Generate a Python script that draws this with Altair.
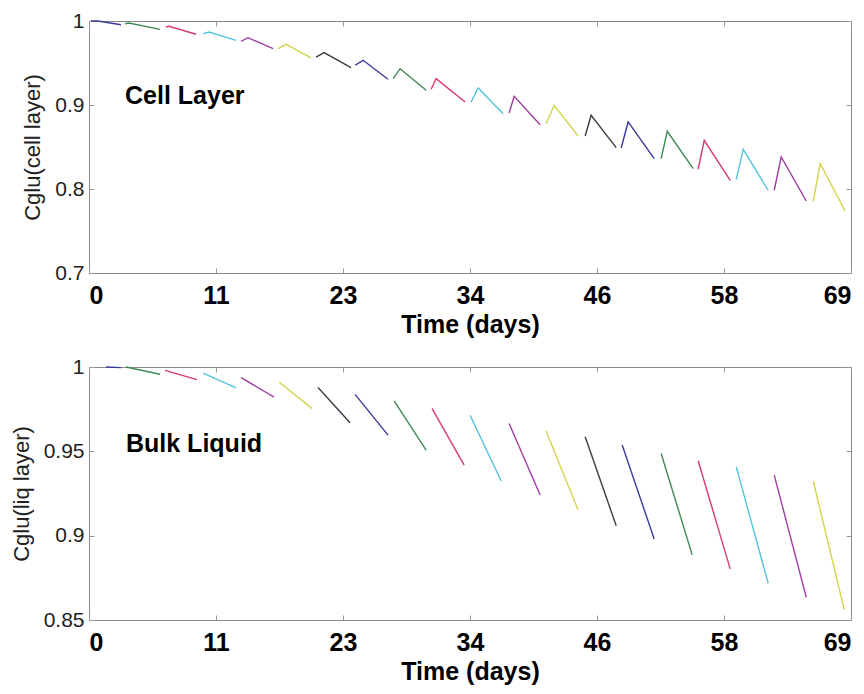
import json
import altair as alt
import pandas as pd

FONT = "Liberation Sans"

# ---------------- data ----------------
x_ticks = [0, 11.5, 23, 34.5, 46, 57.5, 69]
x_tick_labels = ["0", "11", "23", "34", "46", "58", "69"]

color_codes = ["b", "g", "r", "c", "m", "y", "k"]
color_values = ["#3a3a9c", "#3f8a52", "#d83a6c", "#52c4de", "#a23ca2", "#d4d44c", "#3c3c48"]

# Cell layer: each dosing interval = start, peak, end
cell_t_start = [0.18, 3.26, 6.97, 10.33, 13.77, 17.12, 20.56, 24.09, 27.54, 30.98,
                34.60, 38.04, 41.39, 44.93, 48.19, 51.81, 55.16, 58.61, 62.05, 65.58]
cell_t_peak = [0.82, 3.62, 7.25, 10.87, 14.40, 17.84, 21.29, 24.82, 28.17, 31.43,
               35.24, 38.50, 42.12, 45.47, 48.82, 52.36, 55.71, 59.24, 62.68, 66.21]
cell_t_end = [2.90, 6.43, 9.69, 13.32, 16.67, 20.11, 23.73, 27.08, 30.53, 34.06,
              37.50, 40.85, 44.29, 47.74, 51.18, 54.71, 58.06, 61.50, 64.95, 68.48]
cell_v_start = [1.000, 0.9968, 0.9929, 0.9849, 0.9758, 0.9670, 0.9571, 0.9473, 0.9313, 0.9187,
                0.9036, 0.8905, 0.8777, 0.8631, 0.8488, 0.8361, 0.8235, 0.8115, 0.7985, 0.7857]
cell_v_peak = [1.000, 0.9976, 0.9937, 0.9869, 0.9801, 0.9723, 0.9623, 0.9532, 0.9432, 0.9313,
               0.9202, 0.9104, 0.8996, 0.8877, 0.8798, 0.8687, 0.8580, 0.8473, 0.8381, 0.8301]
cell_v_end = [0.9956, 0.9901, 0.9842, 0.9770, 0.9670, 0.9560, 0.9444, 0.9306, 0.9175, 0.9036,
              0.8896, 0.8765, 0.8631, 0.8492, 0.8361, 0.8242, 0.8104, 0.7985, 0.7857, 0.7735]

# Bulk liquid: each interval = start, end
liq_t_start = [1.54, 3.35, 6.88, 10.33, 13.77, 17.21, 20.74, 24.09, 27.63, 31.07,
               34.51, 38.04, 41.39, 44.93, 48.28, 51.81, 55.16, 58.61, 62.05, 65.58]
liq_t_end = [2.90, 6.43, 9.78, 13.32, 16.76, 20.20, 23.64, 27.08, 30.53, 33.97,
             37.32, 40.85, 44.29, 47.74, 51.18, 54.62, 58.06, 61.50, 64.95, 68.39]
liq_v_start = [1.000, 1.000, 0.9980, 0.9964, 0.9937, 0.9911, 0.9878, 0.9838, 0.9799, 0.9753,
               0.9714, 0.9665, 0.9620, 0.9586, 0.9537, 0.9487, 0.9444, 0.9408, 0.9359, 0.9324]
liq_v_end = [0.9996, 0.9957, 0.9925, 0.9876, 0.9822, 0.9753, 0.9669, 0.9596, 0.9507, 0.9418,
             0.9324, 0.9241, 0.9152, 0.9059, 0.8980, 0.8886, 0.8803, 0.8718, 0.8635, 0.8560]

cell_label = ["Cell Layer"]
cell_label_x = [3.26]
cell_label_y = [0.901]
liq_label = ["Bulk Liquid"]
liq_label_x = [3.35]
liq_label_y = [0.9497]

# ---------------- tables ----------------
rows = []
for i in range(len(cell_t_start)):
    c = color_codes[i % len(color_codes)]
    for t, v in ((cell_t_start[i], cell_v_start[i]), (cell_t_peak[i], cell_v_peak[i]),
                 (cell_t_end[i], cell_v_end[i])):
        rows.append({"seg": i, "c": c, "t": t, "v": v})
cell_df = pd.DataFrame(rows)

rows = []
for i in range(len(liq_t_start)):
    c = color_codes[i % len(color_codes)]
    rows.append({"seg": i, "c": c, "t": liq_t_start[i], "v": liq_v_start[i]})
    rows.append({"seg": i, "c": c, "t": liq_t_end[i], "v": liq_v_end[i]})
liq_df = pd.DataFrame(rows)

label_expr = f"{json.dumps(x_tick_labels)}[indexof({json.dumps(x_ticks)}, datum.value)]"


def panel(df, ydomain, yticks, ytitle, ann_text, ann_x, ann_y, h):
    xs = alt.Scale(domain=[0, 69], nice=False, zero=False)
    ys = alt.Scale(domain=ydomain, nice=False, zero=False)
    ax_bottom = alt.Axis(orient="bottom", values=x_ticks, labelExpr=label_expr,
                         labelFont=FONT, labelFontSize=25, labelFontWeight="bold",
                         labelColor="black", labelPadding=10, labelFlush=True,
                         tickSize=5, tickColor="#999999", offset=-5, domain=False,
                         grid=False, title="Time (days)", titleFont=FONT,
                         titleFontSize=25, titleFontWeight="bold", titleColor="black",
                         titlePadding=4)
    ax_left = alt.Axis(orient="left", values=yticks, format="~g", labelFont=FONT,
                       labelFontSize=21, labelColor="#222222", labelPadding=5,
                       tickSize=5, tickColor="#999999", offset=-5, domain=False,
                       grid=False, title=ytitle, titleFont=FONT, titleFontSize=22,
                       titleFontWeight="normal", titleColor="#222222", titlePadding=10)
    ax_top = alt.Axis(orient="top", values=x_ticks, labels=False, tickSize=5,
                      tickColor="#999999", offset=-5, domain=False, grid=False, title=None)
    ax_right = alt.Axis(orient="right", values=yticks, labels=False, tickSize=5,
                        tickColor="#999999", offset=-5, domain=False, grid=False, title=None)

    lines = alt.Chart(df).mark_line(strokeWidth=1.4).encode(
        x=alt.X("t:Q", scale=xs, axis=ax_bottom),
        y=alt.Y("v:Q", scale=ys, axis=ax_left),
        color=alt.Color("c:N", scale=alt.Scale(domain=color_codes, range=color_values),
                        legend=None),
        detail="seg:N",
    )
    frame = alt.Chart(df).mark_line(opacity=0).encode(
        x=alt.X("t:Q", scale=xs, axis=ax_top),
        y=alt.Y("v:Q", scale=ys, axis=ax_right),
        detail="seg:N",
    )
    ann_df = pd.DataFrame({"label": ann_text, "x": ann_x, "y": ann_y})
    ann = alt.Chart(ann_df).mark_text(align="left", baseline="alphabetic", font=FONT,
                                      fontSize=25, fontWeight="bold", color="black").encode(
        x=alt.X("x:Q", scale=xs, axis=None),
        y=alt.Y("y:Q", scale=ys, axis=None),
        text="label:N",
    )
    return alt.layer(lines, frame, ann).resolve_axis(x="independent", y="independent").properties(
        width=762, height=h)


top = panel(cell_df, [0.7, 1.0], [0.7, 0.8, 0.9, 1.0], "Cglu(cell layer)",
            cell_label, cell_label_x, cell_label_y, 252)
bottom = panel(liq_df, [0.85, 1.0], [0.85, 0.9, 0.95, 1.0], "Cglu(liq layer)",
               liq_label, liq_label_x, liq_label_y, 253)

chart = alt.vconcat(top, bottom, spacing=94, bounds="flush").properties(
    padding={"left": 9, "top": 9, "right": 5, "bottom": 5}
).configure_view(stroke="#8a8a8a", strokeWidth=1).configure_axis(grid=False)

chart.save("out.html", embed_options={"renderer": "svg", "actions": False})
